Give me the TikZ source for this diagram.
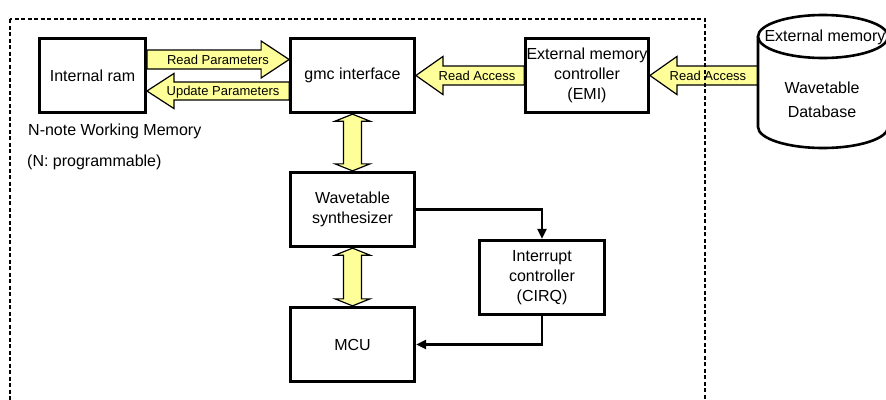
\documentclass[tikz,border=0pt]{standalone}
\usepackage{fontspec}
\setmainfont{Liberation Sans}
\usetikzlibrary{calc,arrows.meta,backgrounds}
\definecolor{fatyellow}{RGB}{255,255,153}
\tikzset{
  box/.style={draw,line width=2.8pt,fill=white,minimum width=124.5pt,minimum height=74.5pt,
    align=center,inner sep=0pt,font=\fontsize{16}{20}\selectfont},
  fat/.style={draw,line width=1.2pt,fill=fatyellow,line join=miter},
  lbl/.style={font=\fontsize{13}{14}\selectfont,inner sep=0pt,text height=9.3pt,text depth=0pt},
  conn/.style={line width=2.3pt,-{Triangle[length=10pt,width=9pt]}},
  frame/.style={line width=2.4pt,dash pattern=on 4pt off 2.5pt},
  note/.style={font=\fontsize{16}{20}\selectfont,anchor=base west,inner sep=0pt},
  cyl/.style={draw,line width=2.6pt,fill=white},
  cyltext/.style={font=\fontsize{16}{20}\selectfont,anchor=base,inner sep=0pt},
}
% horizontal fat arrow: #1 tail, #2 tip, #3 shaft half width, #4 head half width, #5 signed head length
\newcommand\fatH[5]{%
  \draw[fat] ($(#1)+(0,#3)$) -- ($(#2)+(#5,#3)$) -- ($(#2)+(#5,#4)$) -- (#2)
    -- ($(#2)+(#5,-#4)$) -- ($(#2)+(#5,-#3)$) -- ($(#1)+(0,-#3)$) -- cycle;}
% vertical double fat arrow: #1 top tip, #2 bottom tip
\newcommand\fatV[5]{%
  \draw[fat] (#1) -- ($(#1)+(#4,-#5)$) -- ($(#1)+(#3,-#5)$) -- ($(#2)+(#3,#5)$)
    -- ($(#2)+(#4,#5)$) -- (#2) -- ($(#2)+(-#4,#5)$) -- ($(#2)+(-#3,#5)$)
    -- ($(#1)+(-#3,-#5)$) -- ($(#1)+(-#4,-#5)$) -- cycle;}
\begin{document}
\begin{tikzpicture}[x=1pt,y=1pt]
\useasboundingbox (0,0) rectangle (886,-399);
\clip (0,0) rectangle (886,-399);

% boxes
\path (92.5,-75.5) node[box,minimum width=106pt] (ram) {Internal ram};
\path (352.5,-75.5) node[box,minimum width=124pt] (gmc) {gmc interface};
\path (587,-75.5) node[box,minimum width=123pt] (emi) {External memory\\controller\\(EMI)};
\path (352.5,-209.5) node[box] (wave) {Wavetable\\synthesizer};
\path (352.5,-344.5) node[box] (mcu) {MCU};
\path (542,-277.5) node[box,minimum width=125pt] (int) {Interrupt\\controller\\(CIRQ)};
\coordinate (dbL) at (758,-75.5);

\coordinate (rpA) at ($(ram.east)+(0,16)$);
\coordinate (rpB) at ($(gmc.west)+(0,16)$);
\coordinate (upA) at ($(gmc.west)+(0,-15.5)$);
\coordinate (upB) at ($(ram.east)+(0,-15.5)$);

\begin{scope}[on background layer]
  % fat arrows
  \fatH{rpA}{rpB}{9.5}{18.5}{-28}
  \fatH{upA}{upB}{9}{17.5}{27}
  \fatH{emi.west}{gmc.east}{9.5}{19}{27}
  \fatH{dbL}{emi.east}{9.5}{19}{27}
  \fatV{gmc.south}{wave.north}{9}{17.5}{7}
  \fatV{wave.south}{mcu.north}{9}{17.5}{7}
  % dashed frame
  \draw[frame] (10,-19) rectangle (705,-430);
\end{scope}

% arrow labels
\node[lbl] (l1) at ($(rpA)!0.5!(rpB)$) {Read Parameters};
\node[lbl] (l2) at ($(upA)!0.5!(upB)+(5,0)$) {Update Parameters};
\node[lbl] (l3) at ($(gmc.east)!0.5!(emi.west)+(7,0)$) {Read Access};
\node[lbl] (l4) at ($(emi.east)!0.5!(dbL)+(4,0)$) {Read Access};

% thin connectors
\draw[conn] (wave.east) -| (int.north);
\draw[conn] (int.south) |- (mcu.east);

% notes
\node[note] (n1) at (28,-135.5) {N-note Working Memory};
\node[note] (n2) at (27,-166) {(N: programmable)};

% cylinder (external memory)
\draw[cyl] (758,-36.5) -- (758,-127) arc[start angle=180,end angle=360,x radius=65,y radius=21] -- (888,-36.5);
\draw[cyl] (823,-36.5) ellipse[x radius=65,y radius=21.5];
\node[cyltext] (ext) at (825,-41) {External memory};
\node[cyltext] (db1) at (822,-93.5) {Wavetable};
\node[cyltext] (db2) at (822,-117.5) {Database};
\end{tikzpicture}
\end{document}
